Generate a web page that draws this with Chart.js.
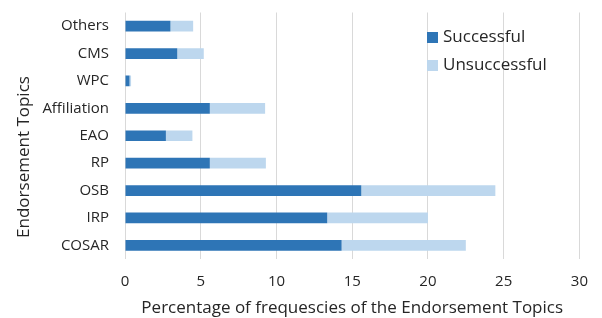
<!DOCTYPE html>
<html>
<head>
<meta charset="utf-8">
<script src="https://cdn.jsdelivr.net/npm/chart.js@4.4.1/dist/chart.umd.min.js"></script>
<style>
  html, body { margin: 0; padding: 0; background: #fff; }
  #wrap { width: 602px; height: 318px; position: relative; }
</style>
</head>
<body>
<div id="wrap"><canvas id="chart"></canvas></div>
<script>
// Endorsement topics, top to bottom as drawn
const topics = ['Others', 'CMS', 'WPC', 'Affiliation', 'EAO', 'RP', 'OSB', 'IRP', 'COSAR'];
const successful = [3.0, 3.45, 0.3, 5.6, 2.7, 5.6, 15.6, 13.35, 14.3];
const unsuccessful = [1.5, 1.75, 0.1, 3.65, 1.75, 3.7, 8.85, 6.65, 8.2];
const xTicks = [0, 5, 10, 15, 20, 25, 30];

const FONT = 'Open Sans';
const TEXT = '#262626';

// legend inside the plot (top right) + y axis title, drawn by hand
const extras = {
    id: 'extras',
    afterDraw(chart) {
        const ctx = chart.ctx;
        ctx.save();
        ctx.font = '17px "' + FONT + '"';
        ctx.textBaseline = 'middle';
        chart.data.datasets.forEach((ds, i) => {
            const y = 37 + i * 28;
            ctx.fillStyle = ds.backgroundColor;
            ctx.fillRect(427, y - 5, 11, 11);
            ctx.fillStyle = TEXT;
            ctx.fillText(ds.label, 443, y);
        });
        ctx.translate(24, 157);
        ctx.rotate(-Math.PI / 2);
        ctx.textAlign = 'center';
        ctx.fillText('Endorsement Topics', 0, 0);
        ctx.restore();
    }
};

new Chart(document.getElementById('chart'), {
    type: 'bar',
    data: {
        labels: topics,
        datasets: [
            { label: 'Successful', data: successful, backgroundColor: '#2e75b6' },
            { label: 'Unsuccessful', data: unsuccessful, backgroundColor: '#bdd7ee' }
        ]
    },
    options: {
        indexAxis: 'y',
        responsive: true,
        maintainAspectRatio: false,
        animation: false,
        layout: { padding: { left: 0, right: 17, top: 12.5, bottom: 0 } },
        datasets: { bar: { barPercentage: 0.8, categoryPercentage: 0.49 } },
        plugins: {
            legend: { display: false },
            tooltip: { enabled: false }
        },
        scales: {
            x: {
                stacked: true,
                min: 0,
                max: 30,
                afterBuildTicks: scale => { scale.ticks = xTicks.map(v => ({ value: v })); },
                grid: { color: '#d9d9d9', drawTicks: false },
                border: { display: false },
                ticks: { color: TEXT, font: { family: FONT, size: 15 }, padding: 14 },
                title: {
                    display: true,
                    text: 'Percentage of frequescies of the Endorsement Topics',
                    color: TEXT,
                    font: { family: FONT, size: 17 },
                    padding: { top: 0, bottom: 0 }
                },
                afterFit: scale => { scale.height = 59; }
            },
            y: {
                stacked: true,
                grid: { display: false, drawTicks: false },
                border: { display: false },
                ticks: { color: TEXT, font: { family: FONT, size: 15 }, padding: 16 },
                afterFit: scale => {
                    scale.width = 125;
                    scale.paddingTop = 0;
                    scale.paddingBottom = 0;
                }
            }
        }
    },
    plugins: [extras]
});
</script>
</body>
</html>
